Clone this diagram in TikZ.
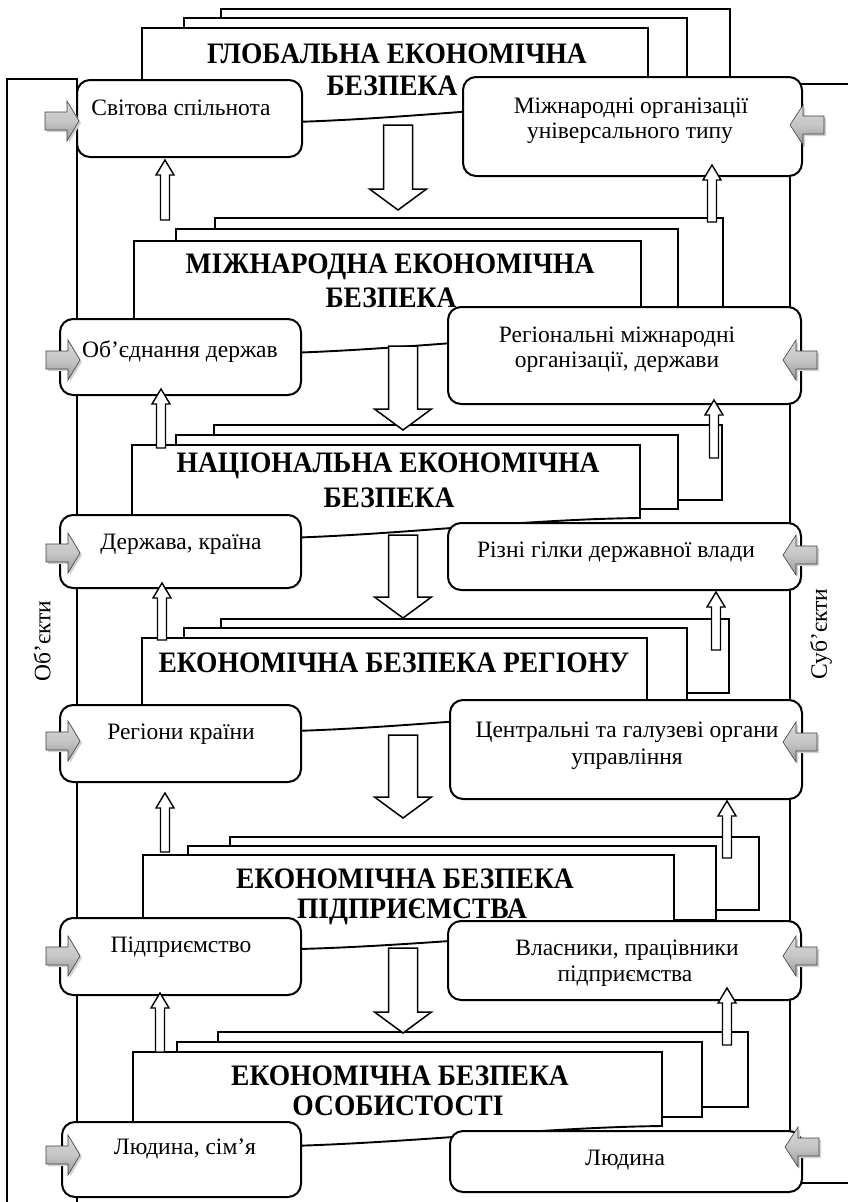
\documentclass[tikz,border=0pt]{standalone}
\usepackage{fontspec}
\setmainfont{Liberation Serif}
\tikzset{
  frame/.style={line width=1.3pt},
  doc/.style={draw, line width=1.9pt, fill=white, line join=miter},
  box/.style={draw, line width=2pt, fill=white, rounded corners=13pt, rectangle, inner sep=0pt, outer sep=0pt},
  hollow/.style={draw, line width=1.5pt, fill=white, line join=miter},
  grayarrow/.style={draw=gray!50!black, line width=0.6pt, top color=gray!30, bottom color=gray!80, middle color=gray!45},
  grayshadow/.style={fill=gray!35, draw=none},
  title/.style={font=\fontsize{27.5}{31}\selectfont\bfseries, inner sep=0pt, anchor=base},
  txt/.style={font=\fontsize{23.5}{26}\selectfont, inner sep=0pt, anchor=base},
}
\newcommand\tl[1]{\scalebox{1}[1.08]{#1}}
\newcommand\frontdoc[5]{%
  \draw[doc] (#2,#4) -- (#3,#4) -- (#3,#4+#5) .. controls (#3-170,#4+#5+2) and (#2+170,#4+#5+32) .. (#2,#4+#5+16) -- cycle;
  \coordinate (#1) at ({(#2+#3)/2},#4);}
\newcommand\boxnode[5]{%
  \node[box, minimum width={(#4-#2)*1pt}, minimum height={(#5-#3)*1pt}] (#1) at ({(#2+#4)/2},{(#3+#5)/2}) {};}
\newcommand\bigdown[3]{%
  \draw[hollow] (#1-14.5,#2) -- (#1+14.5,#2) -- (#1+14.5,#3-21) -- (#1+28.5,#3-21) -- (#1,#3) -- (#1-28.5,#3-21) -- (#1-14.5,#3-21) -- cycle;}
\newcommand\smallup[3]{%
  \draw[hollow, line width=1.4pt] (#1-4.5,#2) -- (#1-4.5,#3+15) -- (#1-9,#3+15) -- (#1,#3) -- (#1+9,#3+15) -- (#1+4.5,#3+15) -- (#1+4.5,#2) -- cycle;}
\newcommand\grayR[2]{%
  \fill[grayshadow] (#1+2,#2-7) -- (#1+24,#2-7) -- (#1+24,#2-18) -- (#1+36,#2+2) -- (#1+24,#2+22) -- (#1+24,#2+11) -- (#1+2,#2+11) -- cycle;
  \draw[grayarrow] (#1,#2-9) -- (#1+22,#2-9) -- (#1+22,#2-20) -- (#1+34,#2) -- (#1+22,#2+20) -- (#1+22,#2+9) -- (#1,#2+9) -- cycle;}
\newcommand\grayL[2]{%
  \fill[grayshadow] (#1+2,#2+2) -- (#1+15,#2-18) -- (#1+15,#2-7) -- (#1+36,#2-7) -- (#1+36,#2+11) -- (#1+15,#2+11) -- (#1+15,#2+22) -- cycle;
  \draw[grayarrow] (#1,#2) -- (#1+13,#2-20) -- (#1+13,#2-9) -- (#1+34,#2-9) -- (#1+34,#2+9) -- (#1+13,#2+9) -- (#1+13,#2+20) -- cycle;}
\begin{document}
\begin{tikzpicture}[x=1pt,y=-1pt]
\useasboundingbox (0,0) rectangle (847,1202);
% frames
\draw[frame] (7,1203) -- (7,79) -- (77,79) -- (77,1203);
\draw[frame] (850,84) -- (790,84) -- (790,1183) -- (850,1183);
% level 1
\draw[doc] (221,9) rectangle (730,84);
\draw[doc] (184,18) rectangle (687,93);
\frontdoc{d1}{142}{648}{28}{74}
\node[title] (h1a) at (397,63) {\tl{ГЛОБАЛЬНА ЕКОНОМІЧНА}};
\node[title] (h1b) at (392,95) {\tl{БЕЗПЕКА}};
% level 2
\draw[doc] (215,218) rectangle (723,311);
\draw[doc] (176,229) rectangle (678,321);
\frontdoc{d2}{134}{641}{241}{92}
\node[title] (h2a) at (390,273) {\tl{МІЖНАРОДНА ЕКОНОМІЧНА}};
\node[title] (h2b) at (391,307) {\tl{БЕЗПЕКА}};
% level 3
\draw[doc] (214,425) rectangle (722,500);
\draw[doc] (176,435) rectangle (678,509);
\frontdoc{d3}{132}{640}{445}{73}
\node[title] (h3a) at (388,472) {\tl{НАЦІОНАЛЬНА ЕКОНОМІЧНА}};
\node[title] (h3b) at (389,507) {\tl{БЕЗПЕКА}};
% level 4
\draw[doc] (221,619) rectangle (729,693);
\draw[doc] (184,628) rectangle (687,702);
\frontdoc{d4}{142}{647}{638}{73}
\node[title] (h4a) at (394,672) {\tl{ЕКОНОМІЧНА БЕЗПЕКА РЕГІОНУ}};
% level 5
\draw[doc] (230,837) rectangle (759,910);
\draw[doc] (188,846) rectangle (716,920);
\frontdoc{d5}{143}{674}{855}{74}
\node[title] (h5a) at (405,888) {\tl{ЕКОНОМІЧНА БЕЗПЕКА}};
\node[title] (h5b) at (412,918) {\tl{ПІДПРИЄМСТВА}};
% level 6
\draw[doc] (218,1032) rectangle (748,1107);
\draw[doc] (177,1042) rectangle (702,1117);
\frontdoc{d6}{133}{662}{1052}{74}
\node[title] (h6a) at (400,1085) {\tl{ЕКОНОМІЧНА БЕЗПЕКА}};
\node[title] (h6b) at (398,1115) {\tl{ОСОБИСТОСТІ}};
% boxes
\boxnode{b1l}{77}{80}{302}{157}
\boxnode{b1r}{463}{77}{802}{176}
\boxnode{b2l}{60}{319}{301}{395}
\boxnode{b2r}{448}{307}{801}{404}
\boxnode{b3l}{60}{515}{301}{588}
\boxnode{b3r}{448}{523}{801}{590}
\boxnode{b4l}{60}{705}{301}{782}
\boxnode{b4r}{450}{700}{802}{799}
\boxnode{b5l}{60}{918}{301}{995}
\boxnode{b5r}{448}{921}{801}{1000}
\boxnode{b6l}{62}{1122}{301}{1197}
\boxnode{b6r}{450}{1131}{802}{1192}
% box texts
\node[txt] (t1l) at (181,115) {Світова спільнота};
\node[txt] (t1ra) at (631,113) {Міжнародні організації};
\node[txt] (t1rb) at (630,138) {універсального типу};
\node[txt] (t2l) at (180,357) {Об’єднання держав};
\node[txt] (t2ra) at (617,342) {Регіональні міжнародні};
\node[txt] (t2rb) at (617,367) {організації, держави};
\node[txt] (t3l) at (181,549) {Держава, країна};
\node[txt] (t3r) at (616,557) {Різні гілки державної влади};
\node[txt] (t4l) at (181,739) {Регіони країни};
\node[txt] (t4ra) at (627,737) {Центральні та галузеві органи};
\node[txt] (t4rb) at (627,764) {управління};
\node[txt] (t5l) at (181,952) {Підприємство};
\node[txt] (t5ra) at (627,955) {Власники, працівники};
\node[txt] (t5rb) at (625,981) {підприємства};
\node[txt] (t6l) at (185,1154) {Людина, сім’я};
\node[txt] (t6r) at (625,1165) {Людина};
% big down arrows
\bigdown{398}{125}{210}
\bigdown{403}{346}{430}
\bigdown{403}{535}{618}
\bigdown{403}{735}{818}
\bigdown{403}{948}{1033}
% small up arrows
\smallup{165}{220}{160}
\smallup{712}{222}{165}
\smallup{161}{448}{389}
\smallup{714}{458}{400}
\smallup{162}{640}{583}
\smallup{716}{650}{592}
\smallup{165}{852}{793}
\smallup{727}{858}{801}
\smallup{160}{1052}{993}
\smallup{727}{1045}{988}
% gray side arrows
\grayR{45}{121}
\grayR{46}{360}
\grayR{46}{553}
\grayR{46}{741}
\grayR{46}{956}
\grayR{46}{1155}
\grayL{790}{125}
\grayL{783}{360}
\grayL{783}{555}
\grayL{783}{742}
\grayL{783}{956}
\grayL{785}{1147}
% side labels
\node[txt, rotate=90, anchor=center] (objl) at (42,641) {Об’єкти};
\node[txt, rotate=90, anchor=center] (subjl) at (821,634) {Суб’єкти};
\end{tikzpicture}
\end{document}
